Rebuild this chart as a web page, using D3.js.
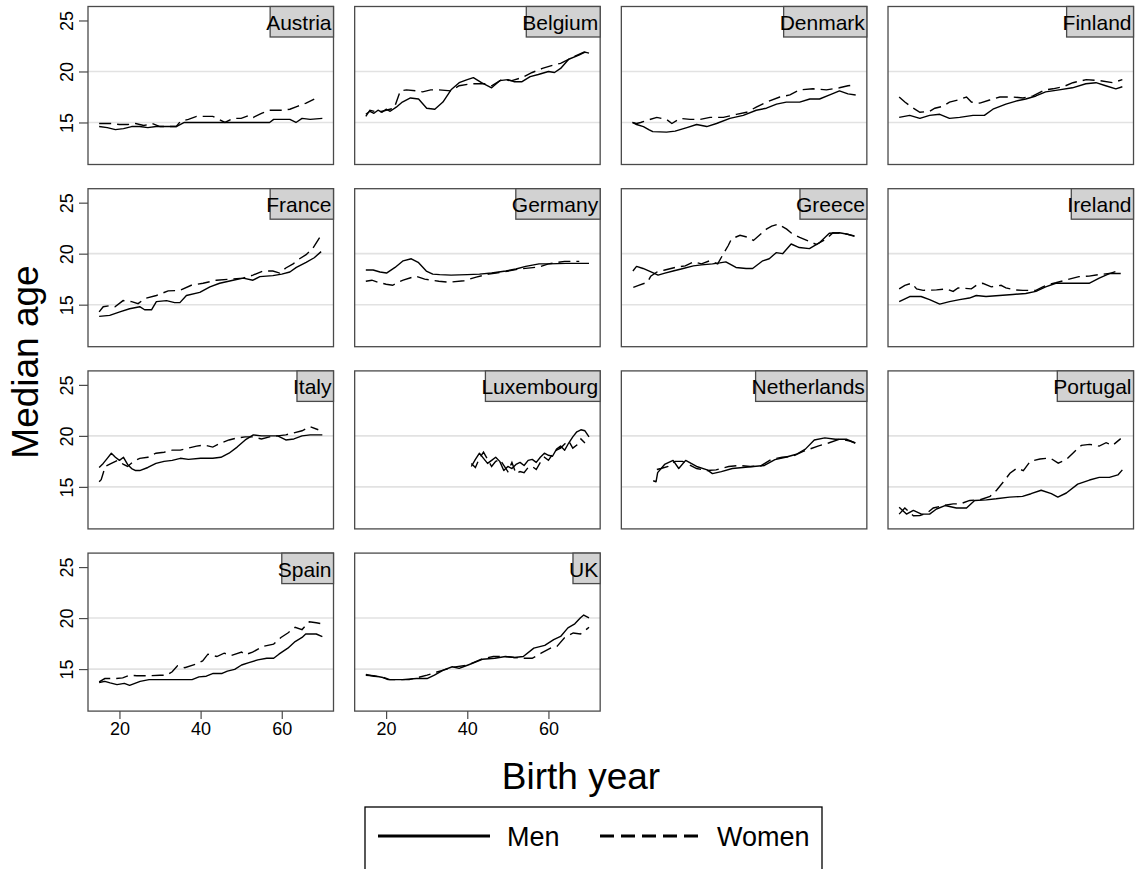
<!DOCTYPE html>
<html><head><meta charset="utf-8">
<script src="https://cdn.jsdelivr.net/npm/d3@7"></script>
<style>html,body{margin:0;padding:0;background:#fff;}svg{display:block;font-family:"Liberation Sans",Arial,sans-serif;}</style>
</head><body>
<svg id="chart" width="1139" height="869"></svg>
<script>
// ---- data: [birth year, median age] ----
const countries = ["Austria","Belgium","Denmark","Finland","France","Germany","Greece","Ireland","Italy","Luxembourg","Netherlands","Portugal","Spain","UK"];
const xTicks = [20,40,60];
const yTicks = [15,20,25];
const legendLabels = ["Men","Women"];

const austriaMen = [[15,14.6],[17,14.5],[19,14.3],[21,14.4],[23,14.6],[25,14.6],[27,14.5],[29,14.6],[31,14.6],[34,14.6],[36,15.0],[40,15.0],[45,15.0],[50,15.0],[55,15.0],[57,15.0],[58,15.3],[62,15.3],[63.5,15.0],[65,15.4],[67,15.3],[70,15.4]];
const austriaWomen = [[15,14.9],[18,14.9],[20,14.8],[22,14.8],[24,14.9],[26,14.7],[28,14.9],[30,14.6],[32,14.6],[34,14.6],[35,15.1],[37,15.3],[39,15.6],[41,15.6],[43,15.6],[44,15.4],[46,15.0],[48,15.4],[50,15.4],[52,15.7],[53,15.5],[55,15.9],[57,16.2],[60,16.2],[62,16.3],[64,16.6],[66,16.9],[68,17.3]];
const belgiumMen = [[15,15.8],[16,16.1],[17,15.9],[18,16.2],[19,16.0],[20,16.3],[21,16.1],[22.5,16.5],[24,17.0],[26,17.4],[28,17.3],[30,16.4],[32,16.3],[34,17.0],[36,18.2],[38,18.9],[40,19.2],[41.5,19.4],[43.5,18.9],[46,18.4],[48,19.1],[50,19.2],[51.5,19.0],[53.5,19.0],[55.5,19.5],[57.5,19.7],[60,20.0],[61.5,19.9],[63,20.3],[65,21.2],[67.5,21.6],[69,21.9],[70,21.8]];
const belgiumWomen = [[15,15.6],[16,16.2],[18,16.0],[20,16.2],[22,16.4],[23.5,18.1],[25,18.2],[27.5,18.1],[29,18.0],[31,18.2],[33,18.2],[36,18.1],[38,18.6],[41,18.8],[44.5,18.8],[46,18.6],[48.5,19.2],[51,19.1],[53.5,19.4],[56,19.9],[58.5,20.3],[61,20.6],[63,20.8],[66,21.4],[68.8,21.9],[70,21.7]];
const denmarkMen = [[15,15.0],[16,14.8],[17.7,14.6],[19,14.3],[20,14.1],[23.4,14.05],[25.5,14.15],[28.4,14.5],[30.8,14.8],[33.3,14.6],[35.7,14.9],[39,15.4],[42.3,15.7],[45.5,16.2],[48,16.4],[50.5,16.8],[52.9,17.0],[56.2,17.0],[58.7,17.3],[61.1,17.3],[63.6,17.7],[66,18.1],[68.1,17.8],[70,17.7]];
const denmarkWomen = [[15,15.0],[16,14.9],[17,15.0],[18.5,15.2],[21,15.5],[23.4,15.3],[24.7,14.9],[26.7,15.4],[29.2,15.3],[31.6,15.3],[34.1,15.5],[37.4,15.5],[40.6,15.8],[43.1,16.0],[45.5,16.5],[48,17.0],[51.3,17.5],[53.8,17.7],[56.2,18.2],[59.5,18.3],[62.8,18.2],[66,18.4],[68.1,18.6],[70,18.7]];
const finlandMen = [[15,15.5],[17.6,15.7],[20.1,15.4],[22.5,15.7],[25,15.8],[27.4,15.4],[29.9,15.5],[33.2,15.7],[36,15.7],[38.1,16.3],[41.3,16.8],[43.8,17.1],[46.2,17.3],[48.7,17.6],[51.1,18.0],[54.4,18.2],[57.7,18.4],[61,18.8],[63.5,18.9],[65.9,18.6],[68.4,18.3],[70,18.5]];
const finlandWomen = [[15,17.5],[16.4,17.0],[18.1,16.5],[20.1,16.0],[22.5,16.1],[23.8,16.4],[25.9,16.6],[27.4,17.0],[29.4,17.2],[31.6,17.5],[32.8,17.0],[34.9,16.9],[37.3,17.2],[39.8,17.5],[43,17.5],[45.5,17.4],[48,17.6],[50.9,18.2],[52.9,18.3],[55.4,18.5],[57.8,18.9],[61.1,19.2],[64.4,19.1],[67.6,18.9],[70,19.2]];
const franceMen = [[15,13.85],[17.6,13.95],[20.1,14.3],[22.5,14.6],[25,14.8],[26.2,14.5],[27.9,14.5],[29.1,15.3],[31.6,15.4],[33.6,15.2],[34.9,15.2],[36.5,15.9],[39.8,16.2],[42.3,16.75],[44.7,17.1],[48,17.4],[50.5,17.6],[52.9,17.4],[54.6,17.75],[57.8,17.85],[60,18.0],[62,18.2],[63.6,18.65],[66,19.15],[68,19.6],[69.7,20.2]];
const franceWomen = [[15,14.3],[16,14.8],[17.6,14.9],[18.9,14.8],[20.9,15.4],[23,15.3],[24.6,15.1],[26.2,15.6],[29.1,15.9],[32,16.35],[34.9,16.4],[37.7,16.9],[40.6,17.1],[43.9,17.4],[47.1,17.5],[50.5,17.6],[52.9,17.9],[55.4,18.3],[57.8,18.3],[59.5,18.1],[61,18.6],[62.8,19.0],[64.4,19.5],[66,19.9],[67.6,20.5],[69.7,21.8]];
const germanyMen = [[15,18.4],[16.8,18.4],[18.5,18.2],[20.1,18.1],[22.2,18.65],[24.2,19.3],[26.2,19.5],[27.9,19.15],[29.9,18.3],[31.5,18.0],[33.2,17.95],[36,17.9],[40,17.95],[43,18.0],[46,18.1],[49.5,18.3],[52,18.5],[54.4,18.75],[57.7,19.0],[60,19.0],[64.3,19.05],[70,19.05]];
const germanyWomen = [[15,17.3],[16.5,17.4],[18,17.2],[20,17.0],[21.6,16.9],[23,17.2],[24.2,17.4],[27.3,17.8],[29.5,17.5],[33,17.3],[35.6,17.2],[39.2,17.35],[42.2,17.7],[45.3,18.0],[48.8,18.2],[52.8,18.5],[57.7,18.7],[60,19.0],[64,19.25],[67.6,19.25]];
const greeceMen = [[15.1,18.3],[16,18.75],[17.6,18.55],[19.7,18.2],[21.3,17.9],[23,18.1],[25,18.3],[27,18.5],[30,18.8],[32,18.9],[34.7,19.0],[36.5,19.1],[38,19.2],[40.5,18.65],[43,18.55],[44.6,18.55],[47.1,19.3],[48.7,19.5],[50.4,20.1],[52,20.0],[54.1,20.95],[56.1,20.6],[58.6,20.5],[61,21.05],[63.5,22.0],[66,22.05],[68,21.9],[69.7,21.7]];
const greeceWomen = [[15.2,16.7],[16.5,16.9],[18.7,17.2],[19.5,17.8],[21,18.2],[23,18.4],[26,18.7],[28,18.8],[30,19.2],[32,19.0],[34,19.3],[36,19.0],[37.4,20.0],[38.6,20.8],[39.4,21.45],[41.5,21.8],[43.5,21.6],[44.8,21.3],[46.4,21.85],[48,22.4],[49.3,22.7],[50.9,22.9],[53,22.4],[54.2,22.0],[56.2,21.6],[58.6,21.2],[60.3,20.9],[62.8,21.45],[64.4,22.05],[66.9,22.0],[69.7,21.75]];
const irelandMen = [[15,15.3],[17.6,15.8],[20.4,15.8],[22.5,15.5],[25,15.05],[27.4,15.3],[29.9,15.5],[32.3,15.65],[34,15.9],[36.4,15.8],[39.7,15.9],[43,16.0],[46.2,16.1],[48.7,16.3],[51.1,16.75],[53.6,17.1],[56,17.1],[59.3,17.1],[61.8,17.1],[64.3,17.6],[66.8,18.05],[69.6,18.05]];
const irelandWomen = [[15,16.55],[16.4,16.9],[18.1,17.1],[19.3,16.55],[20.9,16.4],[24.2,16.45],[26.6,16.55],[28.3,16.3],[29.5,16.65],[32.8,16.55],[34,16.9],[35.6,17.1],[37.7,16.75],[40.1,16.9],[41.3,16.65],[43.4,16.45],[45.5,16.4],[48.7,16.4],[50.4,16.75],[52,17.0],[53.6,17.15],[56.9,17.5],[59.3,17.75],[61.8,17.8],[64.3,17.95],[66.8,18.05],[69.6,18.4]];
const italyMen = [[15,16.9],[16,17.3],[17,17.8],[18,18.3],[19,17.9],[20,17.6],[21,17.9],[22,17.2],[23,16.8],[24,16.6],[25,16.6],[27,16.9],[29,17.3],[31,17.5],[33,17.6],[35,17.8],[37,17.7],[40,17.8],[43,17.8],[45,17.9],[47,18.3],[49,18.9],[51,19.6],[53,20.1],[55,20.0],[57,20.0],[59,20.0],[61,19.6],[63,19.7],[65,20.0],[67,20.1],[70,20.1]];
const italyWomen = [[15,15.5],[15.5,15.7],[16.5,17.0],[18,17.3],[19.5,17.6],[21,17.2],[22,17.0],[23.5,17.5],[25,17.8],[27,17.9],[29,18.3],[31,18.4],[33,18.6],[35,18.6],[37,18.8],[39,19.0],[41,19.1],[43,18.9],[45,19.3],[47,19.6],[49,19.8],[51,19.9],[53,19.9],[55,19.7],[57,19.9],[59,20.0],[61,20.1],[63,20.3],[65,20.5],[67,20.9],[69,20.6]];
const luxembourgMen = [[41,17.0],[42,17.7],[43,18.3],[44,17.8],[45,17.3],[46,17.6],[47,17.9],[48,17.5],[49,16.6],[50,17.0],[51,16.8],[52,17.2],[53,17.4],[54,17.1],[55,17.6],[56,17.7],[57,17.4],[58,17.9],[59,18.3],[60,18.1],[61,18.0],[62,18.7],[63,19.0],[64,18.6],[65,19.3],[66,19.9],[67,20.4],[68,20.6],[69,20.5],[70,19.9]];
const luxembourgWomen = [[41,17.3],[42,16.9],[43,17.8],[44,18.4],[45,17.7],[46,17.0],[47,17.5],[48,17.7],[49,17.1],[50,16.5],[51,17.4],[52,16.3],[53,16.5],[54,16.4],[55,16.9],[56,17.0],[57,16.7],[58,17.4],[59,17.9],[60,17.6],[61,18.2],[62,18.6],[63,18.8],[64,19.2],[65,19.5],[66,18.8],[67,19.1],[68,19.7],[69,19.3]];
const netherlandsMen = [[20.1,15.6],[20.8,15.5],[21.2,16.4],[22.9,17.2],[25,17.6],[26.4,16.8],[28.1,17.6],[30.8,17.0],[33.4,16.67],[34.7,16.3],[36.9,16.5],[39.6,16.8],[42.2,16.9],[44.8,17.0],[47.5,17.1],[50.1,17.67],[52.7,17.9],[55.4,18.2],[57.6,18.7],[59.8,19.6],[62.4,19.8],[65,19.67],[67.7,19.67],[69.9,19.3]];
const netherlandsWomen = [[21,16.7],[22,16.8],[23.8,17.0],[25.5,17.5],[27.3,17.5],[30.8,16.8],[33.4,16.6],[35.6,16.67],[38.7,17.0],[41.3,17.1],[44,17.0],[46.6,17.05],[49.2,17.7],[51.9,17.9],[54.5,18.0],[57.2,18.5],[60.7,19.0],[63.3,19.3],[66,19.67],[68.6,19.5],[69.9,19.3]];
const portugalMen = [[15,13.0],[16.8,12.33],[18.5,12.7],[20.5,12.33],[22.5,12.33],[24.2,12.83],[26.3,13.17],[29.1,12.93],[31.6,12.93],[33.6,13.67],[36.5,13.73],[38.9,13.83],[42.2,14.0],[45.4,14.07],[47.5,14.33],[50,14.67],[52.5,14.33],[54.1,14.0],[56.2,14.4],[59,15.27],[61.9,15.67],[64.3,15.93],[66.8,15.93],[68.9,16.17],[70,16.67]];
const portugalWomen = [[15,12.33],[16.4,12.93],[18.5,12.17],[20.1,12.2],[21.8,12.4],[23.4,12.93],[25.9,13.17],[28.3,13.33],[30,13.33],[32.4,13.67],[34.9,13.73],[37.4,14.07],[39,14.67],[40.7,15.5],[42.3,16.33],[44,16.83],[45.6,16.6],[47.3,17.5],[49.7,17.73],[52.2,17.83],[54.2,17.33],[56.2,17.67],[58.3,18.5],[59.9,19.07],[61.9,19.17],[64.3,19.0],[66,19.33],[67.6,19.07],[69.6,19.73]];
const spainMen = [[15,13.68],[16.4,13.8],[17.7,13.65],[19.4,13.48],[21.2,13.6],[22.5,13.4],[23.8,13.6],[25.1,13.8],[27.3,13.97],[30,13.97],[33.5,13.97],[37.9,13.97],[39.6,14.24],[41.4,14.3],[43.1,14.57],[45.3,14.57],[46.6,14.8],[48.4,14.97],[50.1,15.4],[51.9,15.63],[54.1,15.9],[56.3,16.06],[58,16.06],[59.3,16.46],[61.5,17.05],[63.3,17.7],[65,18.1],[65.9,18.44],[68.5,18.44],[70,18.18]];
const spainWomen = [[15,13.74],[16.4,14.07],[19,14.07],[20.8,14.14],[22.5,14.4],[24.3,14.34],[26.9,14.34],[30,14.4],[31.7,14.4],[33,14.74],[34.3,15.33],[36.1,15.13],[38.7,15.46],[40.5,15.8],[41.8,16.46],[44,16.23],[45.8,16.56],[47.5,16.33],[50.1,16.66],[51,16.4],[52.8,16.66],[55.4,17.22],[58,17.45],[59.8,18.1],[61.5,18.54],[63.3,19.1],[65,18.87],[66.8,19.64],[68.5,19.54],[70,19.44]];
const ukMen = [[15,14.4],[17,14.34],[19.2,14.17],[20.5,13.97],[24,13.97],[27.5,14.07],[30.1,14.07],[31.9,14.4],[34.1,14.9],[36.3,15.23],[38,15.07],[40.2,15.4],[43.7,15.96],[46.8,16.06],[49.4,16.23],[51.6,16.13],[53.8,16.23],[56.4,17.05],[59.1,17.32],[61.3,17.88],[63,18.2],[64.8,19.04],[66.5,19.44],[67.9,20.03],[68.7,20.3],[70,20.03]];
const ukWomen = [[15,14.47],[17,14.3],[19.2,14.2],[20.9,13.97],[25.7,13.97],[30.1,14.4],[31.4,14.57],[34.1,14.9],[36.3,15.17],[39.8,15.36],[43.7,16.0],[46.4,16.23],[49.4,16.23],[51.6,16.13],[53.8,16.06],[56,16.06],[58.2,16.56],[60.8,17.12],[62.1,17.22],[63.9,18.05],[66.1,18.54],[67.9,18.44],[69.6,18.97],[70,19.1]];

const menSeries = [austriaMen,belgiumMen,denmarkMen,finlandMen,franceMen,germanyMen,greeceMen,irelandMen,italyMen,luxembourgMen,netherlandsMen,portugalMen,spainMen,ukMen];
const womenSeries = [austriaWomen,belgiumWomen,denmarkWomen,finlandWomen,franceWomen,germanyWomen,greeceWomen,irelandWomen,italyWomen,luxembourgWomen,netherlandsWomen,portugalWomen,spainWomen,ukWomen];

// ---- layout ----
const svg = d3.select("#chart");
const FONT = '"Liberation Sans",Arial,sans-serif';
const nCols = 4;
const colLeft0 = 88, colStep = 266.67, panelW = 245.5;
const rowTop0 = 6.5, rowStep = 182.2, panelH = 158;
const frameColor = "#4a4a4a";
const x = d3.scaleLinear().domain([12.25, 72.75]).range([0, panelW]);
const y = d3.scaleLinear().domain([10.88, 26.37]).range([panelH, 0]);
const line = d3.line().x(d => x(d[0])).y(d => y(d[1]));

countries.forEach((name, i) => {
  const c = i % nCols, r = Math.floor(i / nCols);
  const g = svg.append("g").attr("transform", `translate(${colLeft0 + c*colStep},${rowTop0 + r*rowStep})`);
  // gridlines
  g.selectAll("line.grid").data([15,20]).join("line").attr("class","grid")
    .attr("x1",0).attr("x2",panelW).attr("y1",d=>y(d)).attr("y2",d=>y(d))
    .attr("stroke","#e2e2e2").attr("stroke-width",1.6);
  // series
  g.append("path").datum(menSeries[i]).attr("d", line).attr("fill","none")
    .attr("stroke","#000").attr("stroke-width",1.4).attr("stroke-linejoin","round");
  g.append("path").datum(womenSeries[i]).attr("d", line).attr("fill","none")
    .attr("stroke","#000").attr("stroke-width",1.4).attr("stroke-dasharray","12,6");
  // frame
  g.append("rect").attr("x",0).attr("y",0).attr("width",panelW).attr("height",panelH)
    .attr("fill","none").attr("stroke",frameColor).attr("stroke-width",1.3);
  // strip label
  const lbl = g.append("text").attr("x", panelW - 2).attr("y", 23.5).attr("text-anchor","end")
    .attr("font-size", 21).attr("font-family", FONT).attr("fill","#000").text(name);
  const tw = lbl.node().getComputedTextLength();
  g.insert("rect", "text").attr("x", panelW - tw + 2).attr("y", 0).attr("width", tw - 2).attr("height", 30.5)
    .attr("fill","#d2d2d2").attr("stroke",frameColor).attr("stroke-width",1.3);
  // y axis on first column
  if (c === 0) {
    const ya = g.append("g").call(d3.axisLeft(y).tickValues(yTicks).tickSize(9).tickPadding(0));
    ya.select(".domain").remove();
    ya.selectAll(".tick line").attr("stroke", frameColor).attr("stroke-width",1.2);
    ya.selectAll(".tick text").attr("transform","rotate(-90)").attr("x",0).attr("y",-15).attr("dy",0)
      .attr("text-anchor","middle").attr("font-size",18).attr("font-family",FONT).attr("fill","#000");
  }
  // x axis on bottom row panels
  if (i >= countries.length - 2) {
    const xa = g.append("g").attr("transform",`translate(0,${panelH})`)
      .call(d3.axisBottom(x).tickValues(xTicks).tickSize(8).tickPadding(3));
    xa.select(".domain").remove();
    xa.selectAll(".tick line").attr("stroke", frameColor).attr("stroke-width",1.2);
    xa.selectAll(".tick text").attr("font-size",18).attr("font-family",FONT).attr("fill","#000");
  }
});

// axis titles
svg.append("text").attr("transform","translate(38,362) rotate(-90)").attr("text-anchor","middle")
  .attr("font-size",37).attr("font-family",FONT).text("Median age");
svg.append("text").attr("x",581).attr("y",789).attr("text-anchor","middle")
  .attr("font-size",37).attr("font-family",FONT).text("Birth year");

// legend
const lg = svg.append("g");
lg.append("rect").attr("x",365).attr("y",807).attr("width",457).attr("height",80)
  .attr("fill","#fff").attr("stroke","#000").attr("stroke-width",1.3);
lg.append("line").attr("x1",378).attr("x2",490).attr("y1",836).attr("y2",836)
  .attr("stroke","#000").attr("stroke-width",2.8);
lg.append("text").attr("x",507).attr("y",846).attr("font-size",27).attr("font-family",FONT).text(legendLabels[0]);
lg.append("line").attr("x1",600).attr("x2",700).attr("y1",836).attr("y2",836)
  .attr("stroke","#000").attr("stroke-width",2.8).attr("stroke-dasharray","14,7");
lg.append("text").attr("x",717).attr("y",846).attr("font-size",27).attr("font-family",FONT).text(legendLabels[1]);
</script>
</body></html>
